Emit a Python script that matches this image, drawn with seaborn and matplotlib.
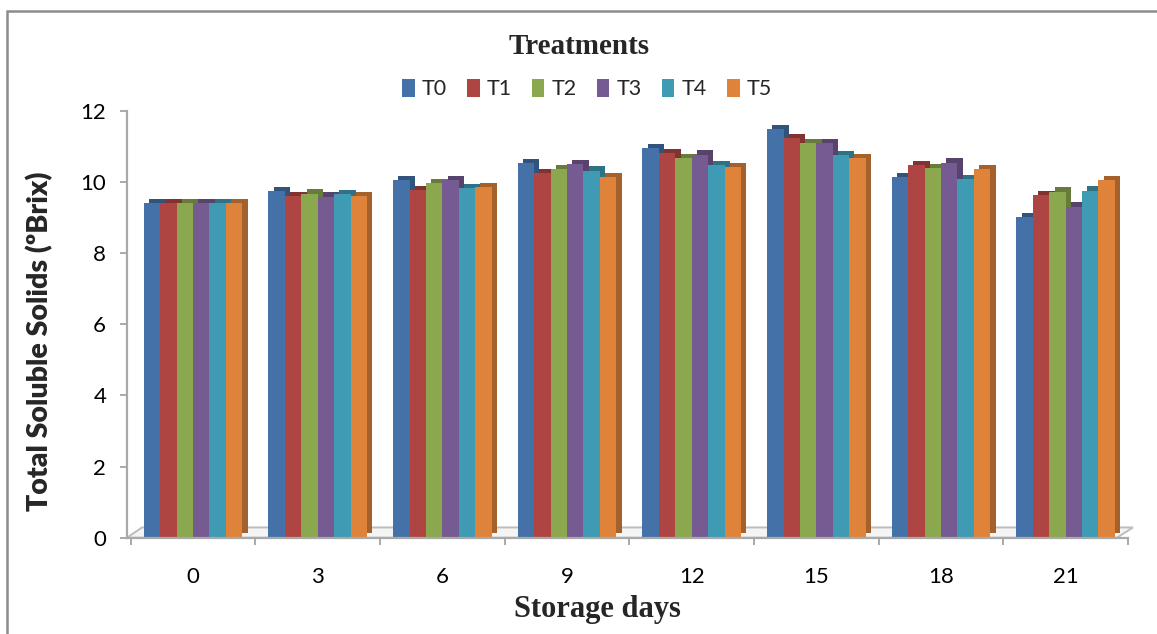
import matplotlib
matplotlib.use("Agg")
import matplotlib.pyplot as plt
import matplotlib.patheffects as pe
from matplotlib.patches import Rectangle, Polygon, Patch
from matplotlib.colors import to_rgb
import numpy as np
import pandas as pd
import seaborn as sns

# Storage days (categories) and treatments (series)
days = ["0", "3", "6", "9", "12", "15", "18", "21"]
treatments = ["T0", "T1", "T2", "T3", "T4", "T5"]

# Total soluble solids (ºBrix) per treatment over storage
t0 = [9.40, 9.73, 10.05, 10.52, 10.94, 11.48, 10.13, 9.00]
t1 = [9.40, 9.60, 9.77, 10.24, 10.80, 11.23, 10.46, 9.63]
t2 = [9.40, 9.67, 9.96, 10.35, 10.66, 11.08, 10.38, 9.72]
t3 = [9.40, 9.58, 10.05, 10.50, 10.76, 11.08, 10.54, 9.30]
t4 = [9.40, 9.65, 9.82, 10.31, 10.47, 10.75, 10.07, 9.75]
t5 = [9.40, 9.60, 9.85, 10.13, 10.41, 10.66, 10.36, 10.05]

y_ticks = [0, 2, 4, 6, 8, 10, 12]

colors = ["#4472a8", "#ae4542", "#8ba84e", "#755b92", "#3f9ab4", "#df833b"]

series = [t0, t1, t2, t3, t4, t5]
df = pd.DataFrame({
    "day": np.repeat([days], len(treatments), axis=0).ravel(),
    "treatment": np.repeat(treatments, len(days)),
    "value": np.concatenate(series),
})

sns.set_theme(style="white")
plt.rcParams["font.family"] = ["Lato", "DejaVu Sans"]

W, H = 1157, 634
fig = plt.figure(figsize=(W / 100, H / 100), dpi=100)
ax = fig.add_axes([127 / W, 1 - 537.7 / H, 1001 / W, 427 / H])

sns.barplot(data=df, x="day", y="value", hue="treatment", order=days,
            hue_order=treatments, palette=colors, width=0.79, gap=0,
            errorbar=None, ax=ax, legend=False, saturation=1,
            linewidth=0)

# Fake 3D depth: a darker extrusion behind each column
n_days = len(days)
for i, patch in enumerate(ax.patches[: n_days * len(treatments)]):
    base = np.array(to_rgb(colors[i // n_days]))
    dark = tuple(base * 0.74)
    patch.set_path_effects([
        pe.SimplePatchShadow(offset=(3.8, 3.2), shadow_rgbFace=dark, alpha=1.0),
        pe.Normal(),
    ])

ax.set_xlim(-0.53, len(days) - 0.53)
ax.set_ylim(0, 12)
ax.set_yticks(y_ticks)
ax.set_yticklabels([str(v) for v in y_ticks])
ax.set_xlabel("")
ax.set_ylabel("")

# Floor slab under the columns
floor = Polygon([[0.0, 0.0], [0.989, 0.0], [1.005, 0.024], [0.015, 0.024]],
                closed=True, transform=ax.transAxes, facecolor="#f4f4f4",
                edgecolor="#bdbdbd", linewidth=1.4, zorder=0.5, clip_on=False)
ax.add_patch(floor)

for side in ["top", "right"]:
    ax.spines[side].set_visible(False)
for side in ["left", "bottom"]:
    ax.spines[side].set_color("#a9a9a9")
    ax.spines[side].set_linewidth(1.6)

ax.set_xticks(np.arange(-0.5, len(days), 1.0), minor=True)
ax.tick_params(axis="x", which="minor", length=5, width=1.4, color="#a9a9a9",
               direction="out", bottom=True)
ax.tick_params(axis="x", which="major", length=0, pad=21, labelsize=16,
               labelcolor="black")
ax.tick_params(axis="y", which="major", length=5, width=1.4, color="#a9a9a9",
               direction="out", left=True, pad=10, labelsize=16,
               labelcolor="black")

# Axis titles
fig.text(40 / W, 1 - 341 / H, "Total Soluble Solids (ºBrix)", rotation=90,
         ha="center", va="center", fontsize=20.5, fontweight="heavy",
         family=["Lato", "DejaVu Sans"])
fig.text(597 / W, 1 - 610 / H, "Storage days", ha="center", va="center",
         fontsize=22, fontweight="bold", family="Liberation Serif")
fig.text(579 / W, 1 - 46 / H, "Treatments", ha="center", va="center",
         fontsize=21, fontweight="bold", family="Liberation Serif")

# Legend
handles = [Patch(facecolor=c, edgecolor="none") for c in colors]
fig.legend(handles, treatments, loc="center", ncol=6,
           bbox_to_anchor=(587 / W, 1 - 89 / H), frameon=False,
           fontsize=15.5, handlelength=0.6, handleheight=0.9,
           handletextpad=0.35, columnspacing=0.9)

# Chart frame
fig.patches.append(Rectangle((7 / W, -0.1), 1.2, 1 - 11 / H + 0.1,
                             transform=fig.transFigure, fill=False,
                             edgecolor="#8c8c8c", linewidth=1.8))

fig.savefig("out.png", dpi=100)
